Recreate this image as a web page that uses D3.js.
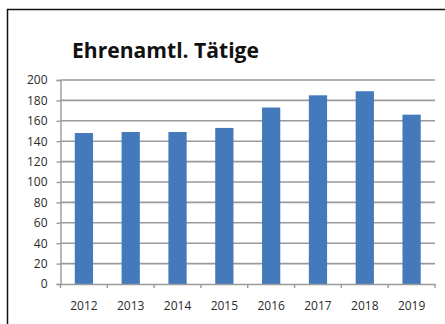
<!DOCTYPE html>
<html>
<head>
<meta charset="utf-8">
<script src="https://cdn.jsdelivr.net/npm/d3@7"></script>
<style>
  html, body { margin: 0; padding: 0; background: #fff; }
  svg { display: block; }
</style>
</head>
<body>
<script>
const title = "Ehrenamtl. Tätige";
const years = ["2012", "2013", "2014", "2015", "2016", "2017", "2018", "2019"];
const values = [148, 149, 149, 153, 173, 185, 189, 166];
const yTicks = [0, 20, 40, 60, 80, 100, 120, 140, 160, 180, 200];

const W = 445, H = 324;
const svg = d3.select("body").append("svg").attr("width", W).attr("height", H);

// frame
svg.append("path")
  .attr("d", `M7.5,${H} L7.5,9.5 L${W},9.5`)
  .attr("fill", "none").attr("stroke", "#111").attr("stroke-width", 1.5);

const x = d3.scaleBand().domain(years).range([60.5, 435]).paddingInner(0.61).paddingOuter(0.305);
const y = d3.scaleLinear().domain([0, 200]).range([284, 80]);

// grid
svg.append("g").selectAll("line").data(yTicks.filter(d => d > 0)).join("line")
  .attr("x1", 60.5).attr("x2", 435)
  .attr("y1", d => y(d)).attr("y2", d => y(d))
  .attr("stroke", "#9a9a9a").attr("stroke-width", 1.6);

// bars
svg.append("g").selectAll("rect").data(values).join("rect")
  .attr("x", (d, i) => x(years[i]))
  .attr("width", x.bandwidth())
  .attr("y", d => y(d))
  .attr("height", d => y(0) - y(d))
  .attr("fill", "#4479bb");

// y axis
const yAxis = d3.axisLeft(y).tickValues(yTicks).tickSize(4).tickPadding(9);
const gy = svg.append("g").attr("transform", "translate(60.5,0)").call(yAxis);
gy.select(".domain").attr("stroke", "#9a9a9a").attr("stroke-width", 1.4);
gy.selectAll(".tick line").attr("stroke", "#9a9a9a").attr("stroke-width", 1.4);
gy.selectAll("text").attr("font-family", "'Open Sans', sans-serif").attr("font-size", 12).attr("fill", "#2a2a2a");

// x axis
const xAxis = d3.axisBottom(x).tickSize(0).tickPadding(17);
const gx = svg.append("g").attr("transform", "translate(0,284)").call(xAxis);
gx.select(".domain").attr("stroke", "#9a9a9a").attr("stroke-width", 1.4);
gx.selectAll("text").attr("font-family", "'Open Sans', sans-serif").attr("font-size", 12).attr("fill", "#2a2a2a");
// band boundary ticks
const bounds = years.map(yr => x(yr) - x.step() * x.paddingInner() / 2).concat([435]);
gx.append("g").selectAll("line").data(bounds).join("line")
  .attr("x1", d => d).attr("x2", d => d).attr("y1", 0).attr("y2", 4)
  .attr("stroke", "#9a9a9a").attr("stroke-width", 1.4);

// title
svg.append("text")
  .attr("x", 72).attr("y", 58)
  .attr("font-family", "'Open Sans', sans-serif")
  .attr("font-weight", "bold").attr("font-size", 21)
  .attr("fill", "#111")
  .attr("textLength", 187).attr("lengthAdjust", "spacingAndGlyphs")
  .text(title);
</script>
</body>
</html>
